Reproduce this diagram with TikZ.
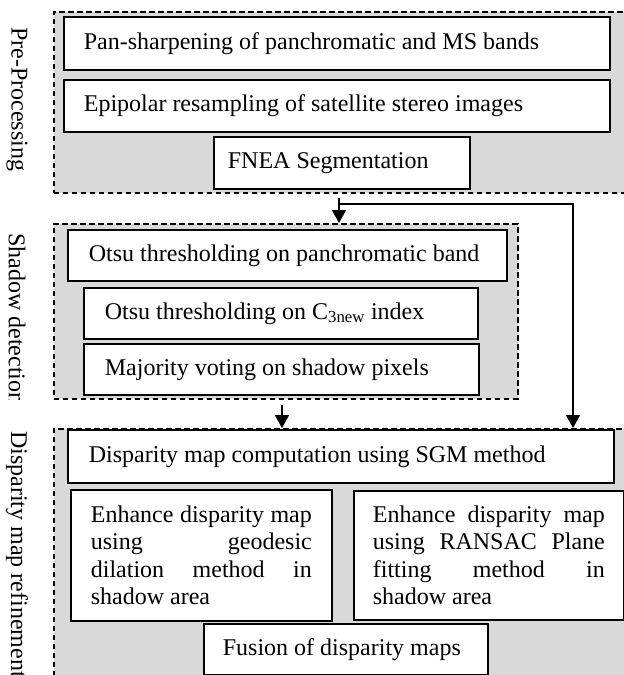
\documentclass[tikz,border=0pt]{standalone}
\usepackage{fontspec}
\setmainfont{Liberation Serif}
\usetikzlibrary{arrows.meta}
\definecolor{grpfill}{RGB}{217,217,217}
\begin{document}
\begin{tikzpicture}[x=1pt,y=-1pt,
  every node/.style={font=\fontsize{24}{27.6}\selectfont},
  grp/.style={draw, fill=grpfill, line width=1.5pt, dash pattern=on 5.5pt off 3.5pt, rectangle, anchor=north west, inner sep=0pt},
  box/.style={draw, fill=white, line width=1.7pt, rectangle, anchor=north west, inner ysep=0pt, align=justify},
  lab/.style={rotate=-90, anchor=west, inner sep=0pt},
  arr/.style={line width=1.7pt, -{Triangle[length=13pt,width=14pt]}}]
\useasboundingbox (0,0) rectangle (624,675);

% group frames
\node[grp, minimum width=590pt, minimum height=181pt] (pregrp) at (53,11) {};
\node[grp, minimum width=464pt, minimum height=175pt] (shgrp) at (53,223) {};
\node[grp, minimum width=590pt, minimum height=270pt] (dgrp) at (53,428) {};

% pre-processing
\node[box, minimum width=546pt, minimum height=53pt, inner xsep=20pt, text width=506pt] (pan) at (63,16) {Pan-sharpening of panchromatic and MS bands};
\node[box, minimum width=546pt, minimum height=52pt, inner xsep=20pt, text width=506pt] (epi) at (63,79) {Epipolar resampling of satellite stereo images};
\node[box, minimum width=256pt, minimum height=52pt, inner xsep=14pt, text width=228pt] (fnea) at (213,136) {FNEA Segmentation};

% shadow detection
\node[box, minimum width=439pt, minimum height=51pt, inner xsep=21pt, text width=397pt] (otsa) at (67,229) {Otsu thresholding on panchromatic band};
\node[box, minimum width=394pt, minimum height=51pt, inner xsep=21pt, text width=352pt] (otsb) at (83,287) {Otsu thresholding on C\textsubscript{3new} index};
\node[box, minimum width=395pt, minimum height=51pt, inner xsep=21pt, text width=353pt] (maj) at (83,343) {Majority voting on shadow pixels};

% disparity map refinement
\node[box, minimum width=546pt, minimum height=53pt, inner xsep=21pt, text width=504pt] (sgm) at (67,429) {Disparity map computation using SGM method};
\node[box, minimum width=261pt, minimum height=131pt, inner xsep=20pt, text width=221pt] (geo) at (70,489)
  {\makebox[221pt][s]{Enhance disparity map}\\\makebox[221pt][s]{using geodesic}\\\makebox[221pt][s]{dilation method in}\\shadow area};
\node[box, minimum width=270pt, minimum height=129pt, inner xsep=19pt, text width=232pt] (ran) at (353,490)
  {\makebox[232pt][s]{Enhance disparity map}\\\makebox[232pt][s]{using RANSAC Plane}\\\makebox[232pt][s]{fitting method in}\\shadow area};
\node[box, minimum width=284pt, minimum height=51pt, inner xsep=19pt, text width=246pt] (fus) at (203,623) {Fusion of disparity maps};

% side labels
\node[lab] (lpre) at (17,27) {Pre-Processing};
\begin{scope}
\clip (0,225) rectangle (45,399);
\node[lab] (lsh) at (17,233) {Shadow detection};
\end{scope}
\node[lab] (ldm) at (17,431) {Disparity map refinement};

% connectors
\coordinate (s1) at (339,198);
\coordinate (j1) at (339,204);
\coordinate (c1) at (573,204);
\coordinate (s2) at (282,405);
\draw[arr] (s1) -- (s1 |- shgrp.north);
\draw[arr] (j1) -- (c1) -- (c1 |- dgrp.north);
\draw[arr] (s2) -- (s2 |- dgrp.north);
\end{tikzpicture}
\end{document}
